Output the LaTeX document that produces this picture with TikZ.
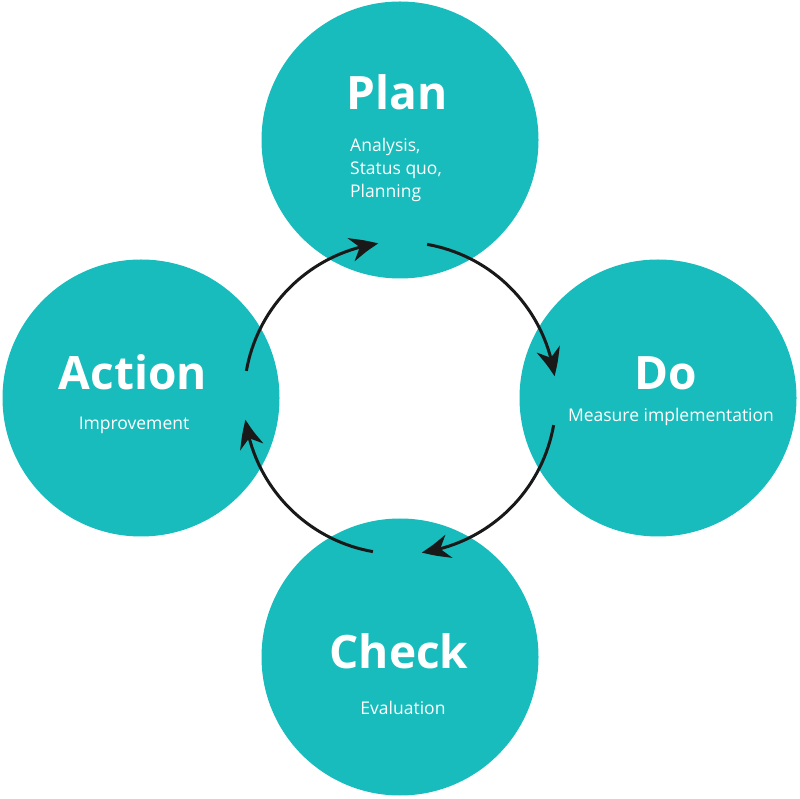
\documentclass[tikz,border=0pt]{standalone}
\usepackage{fontspec}
\setmainfont{Open Sans}
\usepackage{tikz}
\usetikzlibrary{arrows.meta,bending}
\definecolor{pdcateal}{RGB}{24,188,188}
\tikzset{phase/.style={circle,fill=pdcateal,minimum size=277pt,inner sep=0pt},
  phasetitle/.style={text=white,font=\fontsize{46}{50}\selectfont\bfseries,anchor=base,inner sep=0pt},
  phasenote/.style={text=white,font=\fontsize{17.5}{23}\selectfont,anchor=base,inner sep=0pt},
  cyclearrow/.style={-{Stealth[length=28pt,width=24pt,bend]},line width=3pt,black!90}}

\begin{document}
\begin{tikzpicture}[x=1pt,y=1pt]
          \useasboundingbox (0,0) rectangle (800,798);
          \def\ringr{156}
          \coordinate (ring) at (400,400);

          \node[phase] (plan) at (400,658) {};
          \node[phase] (do) at (658,400) {};
          \node[phase] (check) at (400,141) {};
          \node[phase] (action) at (141,400) {};

          \node[phasetitle] (plantitle) at (397,688) {Plan};
          \node[phasenote,anchor=base west,align=left] (plannote) at (350,600) {Analysis,\\Status quo,\\Planning};
          \node[phasetitle] (dotitle) at (666,408) {Do};
          \node[phasenote] (donote) at (671,376) {Measure implementation};
          \node[phasetitle] (checktitle) at (399,130) {Check};
          \node[phasenote] (checknote) at (403,84) {Evaluation};
          \node[phasetitle] (actiontitle) at (133,408) {Action};
          \node[phasenote] (actionnote) at (134,368) {Improvement};

          \draw[cyclearrow] ([shift={(170:\ringr pt)}]ring) arc[start angle=170,end angle=98,radius=\ringr pt];
          \draw[cyclearrow] ([shift={(80:\ringr pt)}]ring) arc[start angle=80,end angle=8,radius=\ringr pt];
          \draw[cyclearrow] ([shift={(-10:\ringr pt)}]ring) arc[start angle=-10,end angle=-82,radius=\ringr pt];
          \draw[cyclearrow] ([shift={(-100:\ringr pt)}]ring) arc[start angle=-100,end angle=-172,radius=\ringr pt];
\end{tikzpicture}
\end{document}
